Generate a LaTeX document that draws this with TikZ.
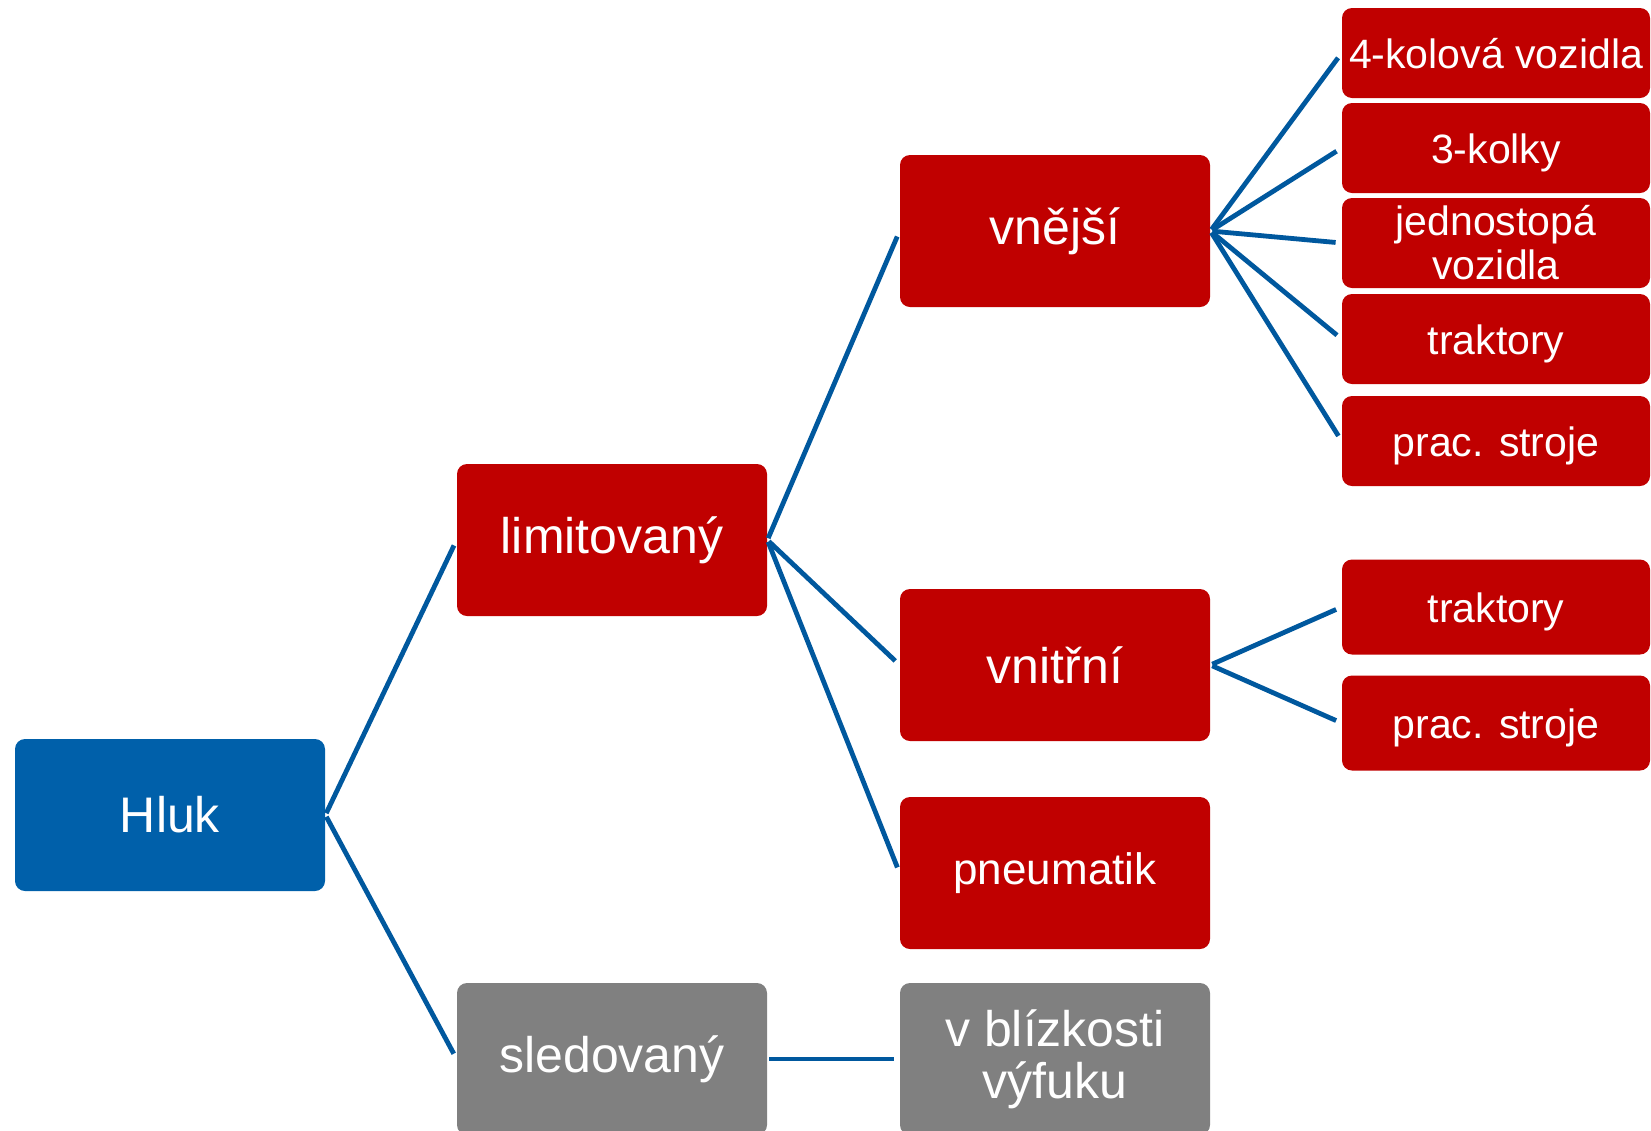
\documentclass[tikz,border=0pt]{standalone}
\usepackage{fontspec}
\setmainfont{Liberation Sans}
\usetikzlibrary{positioning}
\definecolor{boxred}{RGB}{192,0,0}
\definecolor{boxblue}{RGB}{0,96,170}
\definecolor{boxgray}{RGB}{128,128,128}
\definecolor{linkblue}{RGB}{0,88,158}

\begin{document}
\begin{tikzpicture}[x=0.5pt,y=-0.5pt,
  box/.style={rounded corners=5pt,text=white,align=center,inner sep=0pt,
    minimum width=155pt,minimum height=76pt,
    font=\fontsize{25}{26}\selectfont},
  leaf/.style={box,fill=boxred,minimum width=154pt,minimum height=45pt,
    font=\fontsize{20.5}{22}\selectfont},
  oneline/.style={text height=17pt,text depth=2pt},
  link/.style={linkblue,line width=2.4pt,shorten <=1pt,shorten >=3pt}]
\useasboundingbox (0,0) rectangle (1651,1131);
\node[box,fill=boxblue] (hluk) at (170,815) {Hluk};
\node[box,fill=boxred] (limit) at (612,540) {limitovaný};
\node[box,fill=boxgray] (sled) at (612,1059) {sledovaný};
\node[box,fill=boxred] (vnejsi) at (1055,231) {vnější};
\node[box,fill=boxred] (vnitrni) at (1055,665) {vnitřní};
\node[box,fill=boxred,font=\fontsize{22}{24}\selectfont] (pneu) at (1055,873) {pneumatik};
\node[box,fill=boxgray] (vyfuk) at (1055,1059) {v blízkosti\\výfuku};
% leaves
\node[leaf,oneline] (ctyr) at (1496,53) {4-kolová vozidla};
\node[leaf,oneline] (trik) at (1496,148) {3-kolky};
\node[leaf] (jedn) at (1496,243) {jednostopá\\vozidla};
\node[leaf,oneline] (trakA) at (1496,339) {traktory};
\node[leaf,oneline] (strojA) at (1496,441) {prac. stroje};
\node[leaf,oneline,minimum height=47.5pt] (trakB) at (1496,607) {traktory};
\node[leaf,oneline,minimum height=47.5pt] (strojB) at (1496,723) {prac. stroje};
% connectors
\draw[link] (hluk.east) -- (limit.west);
\draw[link] (hluk.east) -- (sled.west);
\draw[link] (sled.east) -- (vyfuk.west);
\foreach \c in {vnejsi,vnitrni,pneu}
  \draw[link] (limit.east) -- (\c.west);
\foreach \c in {ctyr,trik,jedn,trakA,strojA}
  \draw[link] (vnejsi.east) -- (\c.west);
\foreach \c in {trakB,strojB}
  \draw[link] (vnitrni.east) -- (\c.west);
\end{tikzpicture}
\end{document}
